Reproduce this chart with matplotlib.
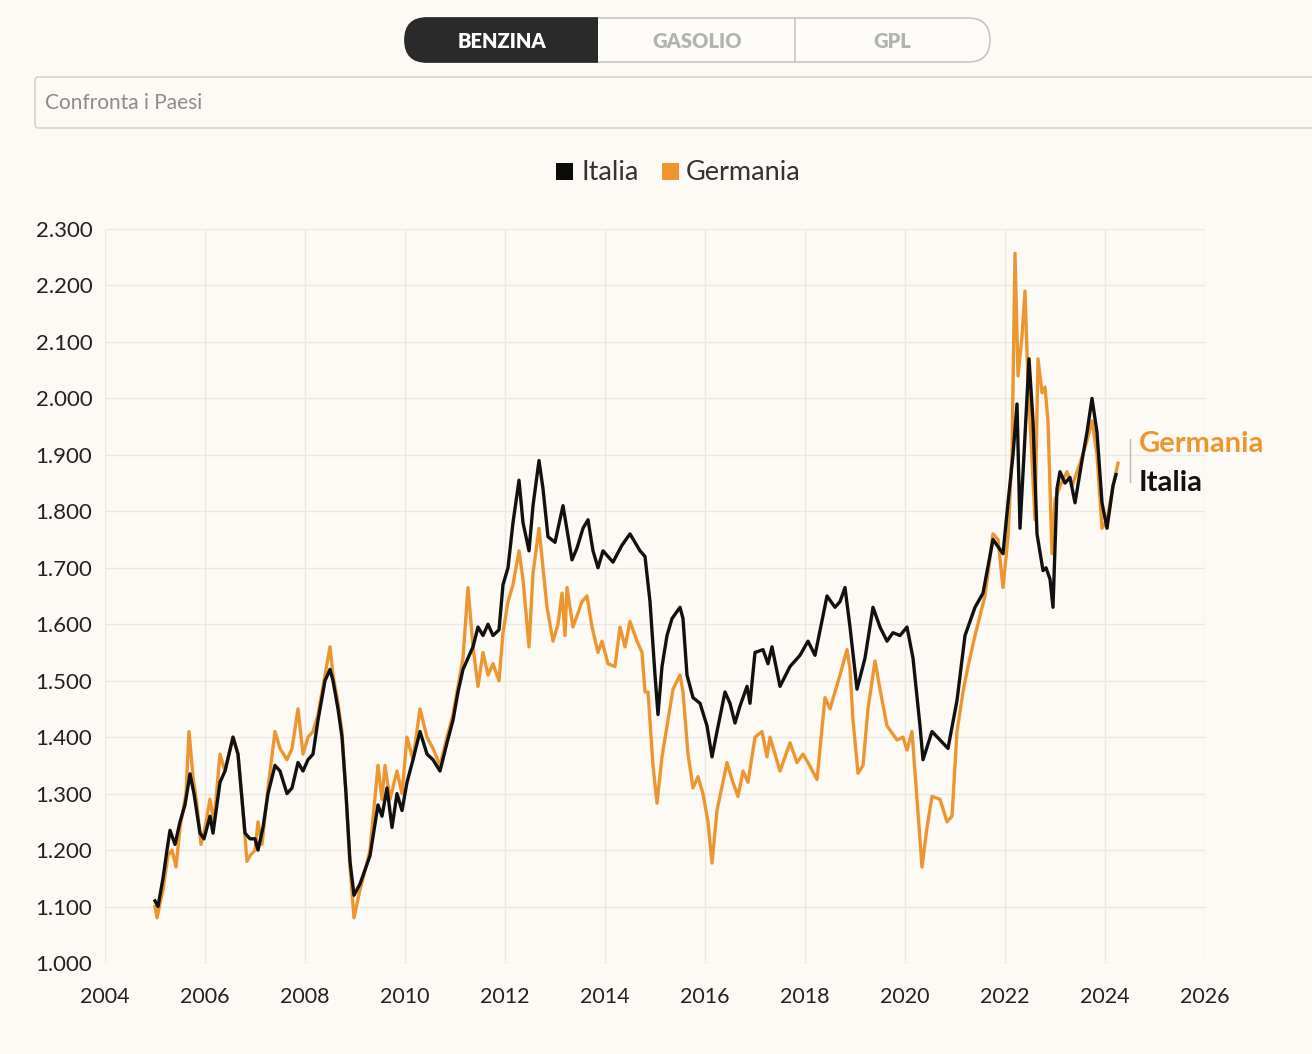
import matplotlib
matplotlib.use("Agg")
import matplotlib.pyplot as plt
from matplotlib.patches import FancyBboxPatch, Rectangle

# prezzi medi benzina (euro/litro)
ita_anni = [2005.00, 2005.06, 2005.16, 2005.24, 2005.30, 2005.40, 2005.50, 2005.60, 2005.70, 2005.78,
            2005.90, 2005.98, 2006.10, 2006.16, 2006.30, 2006.40, 2006.56, 2006.66, 2006.74, 2006.80,
            2006.90, 2007.00, 2007.06, 2007.16, 2007.26, 2007.40, 2007.50, 2007.64, 2007.74, 2007.86,
            2007.96, 2008.06, 2008.16, 2008.26, 2008.40, 2008.50, 2008.56, 2008.66, 2008.74, 2008.82,
            2008.90, 2008.98, 2009.10, 2009.22, 2009.30, 2009.46, 2009.54, 2009.64, 2009.74, 2009.84,
            2009.94, 2010.04, 2010.16, 2010.30, 2010.44, 2010.56, 2010.70, 2010.84, 2010.96, 2011.06,
            2011.16, 2011.26, 2011.36, 2011.46, 2011.56, 2011.66, 2011.76, 2011.88, 2011.96, 2012.06,
            2012.16, 2012.28, 2012.36, 2012.48, 2012.56, 2012.68, 2012.76, 2012.86, 2013.00, 2013.16,
            2013.34, 2013.44, 2013.56, 2013.66, 2013.76, 2013.86, 2013.96, 2014.16, 2014.34, 2014.50,
            2014.70, 2014.80, 2014.90, 2015.00, 2015.06, 2015.14, 2015.24, 2015.34, 2015.50, 2015.56,
            2015.64, 2015.76, 2015.90, 2016.04, 2016.14, 2016.24, 2016.40, 2016.50, 2016.60, 2016.70,
            2016.84, 2016.90, 2017.00, 2017.16, 2017.26, 2017.34, 2017.50, 2017.70, 2017.90, 2018.06,
            2018.20, 2018.44, 2018.60, 2018.70, 2018.80, 2018.90, 2019.04, 2019.20, 2019.36, 2019.50,
            2019.64, 2019.76, 2019.90, 2020.04, 2020.16, 2020.30, 2020.36, 2020.54, 2020.70, 2020.86,
            2021.04, 2021.20, 2021.40, 2021.56, 2021.76, 2021.96, 2022.06, 2022.16, 2022.24, 2022.30,
            2022.38, 2022.48, 2022.56, 2022.64, 2022.76, 2022.82, 2022.90, 2022.96, 2023.04, 2023.10,
            2023.20, 2023.30, 2023.40, 2023.54, 2023.64, 2023.74, 2023.84, 2023.94, 2024.04, 2024.16,
            2024.22]
ita_prezzi = [1.110, 1.100, 1.150, 1.200, 1.235, 1.210, 1.250, 1.280, 1.335, 1.300,
              1.230, 1.220, 1.260, 1.230, 1.320, 1.340, 1.400, 1.370, 1.290, 1.230,
              1.220, 1.220, 1.200, 1.240, 1.300, 1.350, 1.340, 1.300, 1.310, 1.355,
              1.340, 1.360, 1.370, 1.430, 1.500, 1.520, 1.500, 1.450, 1.400, 1.300,
              1.180, 1.120, 1.140, 1.170, 1.190, 1.280, 1.260, 1.310, 1.240, 1.300,
              1.270, 1.320, 1.360, 1.410, 1.370, 1.360, 1.340, 1.390, 1.430, 1.480,
              1.520, 1.540, 1.560, 1.595, 1.580, 1.600, 1.580, 1.590, 1.670, 1.700,
              1.780, 1.855, 1.780, 1.730, 1.810, 1.890, 1.840, 1.755, 1.745, 1.810,
              1.714, 1.735, 1.770, 1.785, 1.730, 1.700, 1.730, 1.710, 1.740, 1.760,
              1.730, 1.720, 1.640, 1.510, 1.440, 1.525, 1.580, 1.610, 1.630, 1.610,
              1.510, 1.470, 1.460, 1.420, 1.365, 1.410, 1.480, 1.460, 1.425, 1.455,
              1.490, 1.460, 1.550, 1.555, 1.530, 1.560, 1.490, 1.525, 1.545, 1.570,
              1.545, 1.650, 1.630, 1.640, 1.665, 1.595, 1.485, 1.540, 1.630, 1.595,
              1.570, 1.585, 1.580, 1.595, 1.540, 1.420, 1.360, 1.410, 1.395, 1.380,
              1.465, 1.580, 1.630, 1.655, 1.750, 1.725, 1.815, 1.900, 1.990, 1.770,
              1.900, 2.070, 1.960, 1.760, 1.695, 1.700, 1.680, 1.630, 1.840, 1.870,
              1.850, 1.860, 1.815, 1.890, 1.940, 2.000, 1.940, 1.815, 1.770, 1.845,
              1.865]

deu_anni = [2005.00, 2005.04, 2005.16, 2005.26, 2005.34, 2005.42, 2005.50, 2005.62, 2005.68, 2005.76,
            2005.84, 2005.92, 2006.00, 2006.10, 2006.18, 2006.30, 2006.40, 2006.56, 2006.66, 2006.74,
            2006.84, 2006.90, 2007.00, 2007.06, 2007.14, 2007.26, 2007.40, 2007.50, 2007.64, 2007.74,
            2007.86, 2007.96, 2008.06, 2008.16, 2008.26, 2008.40, 2008.50, 2008.56, 2008.66, 2008.74,
            2008.82, 2008.90, 2008.98, 2009.10, 2009.22, 2009.30, 2009.46, 2009.54, 2009.60, 2009.70,
            2009.84, 2009.94, 2010.04, 2010.16, 2010.30, 2010.44, 2010.56, 2010.70, 2010.84, 2010.96,
            2011.06, 2011.16, 2011.26, 2011.36, 2011.46, 2011.56, 2011.66, 2011.76, 2011.88, 2011.96,
            2012.06, 2012.16, 2012.28, 2012.36, 2012.48, 2012.56, 2012.68, 2012.76, 2012.84, 2012.96,
            2013.06, 2013.14, 2013.20, 2013.24, 2013.36, 2013.54, 2013.64, 2013.74, 2013.86, 2013.94,
            2014.06, 2014.20, 2014.30, 2014.40, 2014.50, 2014.64, 2014.74, 2014.80, 2014.86, 2014.96,
            2015.04, 2015.14, 2015.24, 2015.36, 2015.50, 2015.56, 2015.66, 2015.76, 2015.86, 2015.96,
            2016.06, 2016.14, 2016.24, 2016.44, 2016.54, 2016.66, 2016.76, 2016.86, 2017.00, 2017.14,
            2017.24, 2017.30, 2017.50, 2017.70, 2017.84, 2017.96, 2018.06, 2018.24, 2018.40, 2018.50,
            2018.70, 2018.84, 2018.90, 2018.96, 2019.06, 2019.16, 2019.26, 2019.40, 2019.50, 2019.64,
            2019.84, 2019.96, 2020.04, 2020.14, 2020.24, 2020.34, 2020.44, 2020.54, 2020.70, 2020.84,
            2020.94, 2021.04, 2021.16, 2021.26, 2021.40, 2021.60, 2021.76, 2021.86, 2021.96, 2022.06,
            2022.14, 2022.20, 2022.26, 2022.34, 2022.40, 2022.46, 2022.60, 2022.66, 2022.74, 2022.80,
            2022.86, 2022.94, 2023.00, 2023.10, 2023.24, 2023.34, 2023.50, 2023.64, 2023.74, 2023.84,
            2023.94, 2024.04, 2024.16, 2024.26]
deu_prezzi = [1.100, 1.080, 1.130, 1.190, 1.200, 1.170, 1.240, 1.300, 1.410, 1.330,
              1.280, 1.210, 1.240, 1.290, 1.250, 1.370, 1.340, 1.400, 1.370, 1.290,
              1.180, 1.190, 1.200, 1.250, 1.210, 1.310, 1.410, 1.380, 1.360, 1.380,
              1.450, 1.370, 1.400, 1.410, 1.440, 1.510, 1.560, 1.510, 1.460, 1.410,
              1.300, 1.170, 1.080, 1.130, 1.170, 1.200, 1.350, 1.290, 1.350, 1.290,
              1.340, 1.300, 1.400, 1.360, 1.450, 1.400, 1.380, 1.350, 1.400, 1.440,
              1.490, 1.540, 1.665, 1.560, 1.490, 1.550, 1.510, 1.530, 1.500, 1.585,
              1.640, 1.670, 1.730, 1.680, 1.560, 1.690, 1.770, 1.700, 1.630, 1.570,
              1.600, 1.655, 1.580, 1.665, 1.595, 1.640, 1.650, 1.595, 1.550, 1.570,
              1.530, 1.525, 1.595, 1.560, 1.605, 1.570, 1.550, 1.480, 1.480, 1.350,
              1.283, 1.365, 1.420, 1.485, 1.510, 1.480, 1.370, 1.310, 1.330, 1.300,
              1.250, 1.177, 1.270, 1.355, 1.325, 1.295, 1.340, 1.320, 1.400, 1.410,
              1.365, 1.400, 1.340, 1.390, 1.355, 1.370, 1.355, 1.325, 1.470, 1.450,
              1.510, 1.555, 1.520, 1.430, 1.336, 1.350, 1.450, 1.535, 1.485, 1.420,
              1.395, 1.400, 1.377, 1.410, 1.290, 1.170, 1.240, 1.295, 1.290, 1.250,
              1.260, 1.410, 1.480, 1.525, 1.580, 1.650, 1.760, 1.750, 1.665, 1.755,
              1.900, 2.257, 2.040, 2.110, 2.190, 2.030, 1.785, 2.070, 2.010, 2.020,
              1.960, 1.725, 1.820, 1.845, 1.870, 1.845, 1.885, 1.925, 1.960, 1.900,
              1.770, 1.785, 1.845, 1.885]

anni_tick = list(range(2004, 2027, 2))
prezzi_tick = [1.0 + 0.1 * i for i in range(14)]

SFONDO = "#fdf9f4"
NERO = "#111111"
ARANCIO = "#ec9632"
FONT = "Lato"

fig = plt.figure(figsize=(13.12, 10.54), dpi=100, facecolor=SFONDO)

ax = fig.add_axes([105 / 1312, 91 / 1054, 1100 / 1312, 734 / 1054])
ax.set_facecolor(SFONDO)
ax.plot(ita_anni, ita_prezzi, color=NERO, lw=2.4, solid_joinstyle="round", zorder=3)
ax.plot(deu_anni, deu_prezzi, color=ARANCIO, lw=2.4, solid_joinstyle="round", zorder=2)
ax.set_xlim(2004, 2026)
ax.set_ylim(1.0, 2.3)
ax.set_xticks(anni_tick)
ax.set_yticks(prezzi_tick)
ax.set_xticklabels([str(a) for a in anni_tick], fontsize=15.5, family=FONT, color="#222222")
ax.set_yticklabels([f"{p:.3f}" for p in prezzi_tick], fontsize=16, family=FONT,
                   color="#222222", ha="left")
ax.tick_params(axis="y", length=0, pad=50)
ax.tick_params(axis="x", length=0, pad=17)
ax.grid(True, color="#ece7e0", lw=1.0, zorder=0)
for s in ax.spines.values():
    s.set_visible(False)

# etichette a fine linea
ax.text(2024.68, 1.92, "Germania", color=ARANCIO, fontsize=21, family=FONT,
        fontweight="bold", va="center", ha="left")
ax.text(2024.68, 1.85, "Italia", color=NERO, fontsize=21, family=FONT,
        fontweight="bold", va="center", ha="left")
ax.plot([2024.5, 2024.5], [1.852, 1.928], color="#bbbbbb", lw=1, clip_on=False)

# interfaccia in alto (coordinate in pixel)
ui = fig.add_axes([0, 0, 1, 1], facecolor="none")
ui.set_xlim(0, 1312)
ui.set_ylim(1054, 0)
ui.axis("off")

pill = FancyBboxPatch((405, 18), 585, 44, boxstyle="round,pad=0,rounding_size=22",
                      fc="#fefcf9", ec="#c9c6c2", lw=1.2)
ui.add_patch(pill)
scuro = FancyBboxPatch((405, 18), 400, 44, boxstyle="round,pad=0,rounding_size=22",
                       fc="#2a2a2a", ec="#2a2a2a", lw=1.2)
ui.add_patch(scuro)
scuro.set_clip_path(Rectangle((395, 10), 203, 60, transform=ui.transData))
ui.plot([795, 795], [18, 62], color="#c9c6c2", lw=1.2)
for testo, xc, col in [("BENZINA", 502, "white"), ("GASOLIO", 697, "#b3b3b3"), ("GPL", 892, "#b3b3b3")]:
    ui.text(xc, 41, testo, ha="center", va="center", fontsize=14.5, family=FONT,
            fontweight="heavy", color=col)

box = FancyBboxPatch((35, 77), 1400, 51, boxstyle="round,pad=0,rounding_size=4",
                     fc="#fdfaf6", ec="#d6d2cd", lw=1.2, clip_on=False)
ui.add_patch(box)
ui.text(45, 103, "Confronta i Paesi", ha="left", va="center", fontsize=15,
        family=FONT, color="#8c8c8c")

# legenda
ui.add_patch(Rectangle((556, 163), 17, 17, fc="#0b0b0b", ec="none"))
ui.text(581, 173, "Italia", ha="left", va="center", fontsize=19.5, family=FONT, color="#333333")
ui.add_patch(Rectangle((662, 163), 17, 17, fc="#f0952e", ec="none"))
ui.text(686, 173, "Germania", ha="left", va="center", fontsize=19.5, family=FONT, color="#333333")

fig.savefig("out.png", dpi=100, facecolor=SFONDO)
